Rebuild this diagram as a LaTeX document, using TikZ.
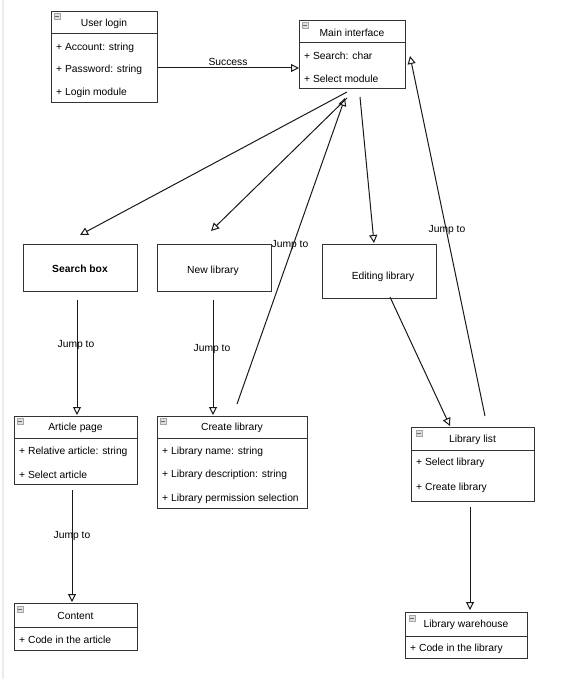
\documentclass[tikz,border=0pt]{standalone}
\usepackage{fontspec}
\setmainfont{Liberation Sans}
\usetikzlibrary{arrows.meta}
\begin{document}
\begin{tikzpicture}[x=1pt,y=-1pt,
  box/.style={draw=black!80, line width=1pt, anchor=north west, inner sep=0pt, fill=white},
  sep/.style={draw=black!80, line width=1pt},
  txt/.style={font=\fontsize{10.3}{12}\selectfont, inner sep=0pt, yshift=-1.5pt},
  attr/.style={txt, anchor=west},
  lbl/.style={txt},
  icon/.style={draw=gray!70, fill=gray!25, minimum size=5.5pt, inner sep=0pt,
    path picture={\draw[black!60, line width=0.7pt] ([xshift=1pt]path picture bounding box.west) -- ([xshift=-1pt]path picture bounding box.east);}},
  arr/.style={-{Triangle[open,length=8pt,width=8pt]}, line width=1pt, draw=black!90}
]
\useasboundingbox (0,0) rectangle (588,679);
\fill[white] (0,0) rectangle (588,679);
\draw[gray!15, line width=2pt] (3,0) -- (3,679);

% User login
\node[box, minimum width=106pt, minimum height=91pt] (ul) at (51,11) {};
\draw[sep] (51,34) -- (157,34);
\node[icon] (uli) at (57,16) {};
\node[txt] (ult) at (104,22) {User login};
\node[attr] (ul1) at (56,46) {+ Account: string};
\node[attr] (ul2) at (56,68) {+ Password: string};
\node[attr] (ul3) at (56,91) {+ Login module};

% Main interface
\node[box, minimum width=106pt, minimum height=68pt] (mi) at (299,20) {};
\draw[sep] (299,43) -- (405,43);
\node[icon] (mii) at (305,25) {};
\node[txt] (mit) at (352,31) {Main interface};
\node[attr] (mi1) at (304,54) {+ Search: char};
\node[attr] (mi2) at (304,77) {+ Select module};

% Search box, New library, Editing library
\node[box, minimum width=114pt, minimum height=47pt] (sb) at (23,244) {};
\node[txt, font=\fontsize{10.3}{12}\selectfont\bfseries] (sbt) at (80,267) {Search box};
\node[box, minimum width=114pt, minimum height=47pt] (nl) at (157,244) {};
\node[txt] (nlt) at (213,269) {New library};
\node[box, minimum width=114pt, minimum height=54pt] (el) at (322,244) {};
\node[txt] (elt) at (383,275) {Editing library};

% Article page
\node[box, minimum width=123pt, minimum height=68pt] (ap) at (14,416) {};
\draw[sep] (14,438) -- (137,438);
\node[icon] (api) at (20,421) {};
\node[txt] (apt) at (75.5,426) {Article page};
\node[attr] (ap1) at (19,450) {+ Relative article: string};
\node[attr] (ap2) at (19,473) {+ Select article};

% Create library
\node[box, minimum width=150pt, minimum height=92pt] (cl) at (157,416) {};
\draw[sep] (157,438) -- (307,438);
\node[icon] (cli) at (163,421) {};
\node[txt] (clt) at (232,426) {Create library};
\node[attr] (cl1) at (162,450) {+ Library name: string};
\node[attr] (cl2) at (162,473) {+ Library description: string};
\node[attr] (cl3) at (162,497) {+ Library permission selection};

% Library list
\node[box, minimum width=123pt, minimum height=74pt] (ll) at (411,427) {};
\draw[sep] (411,450) -- (534,450);
\node[icon] (lli) at (419,433) {};
\node[txt] (llt) at (472.5,438) {Library list};
\node[attr] (ll1) at (416,461) {+ Select library};
\node[attr] (ll2) at (416,486) {+ Create library};

% Library warehouse
\node[box, minimum width=122pt, minimum height=46pt] (lw) at (405,612) {};
\draw[sep] (405,636) -- (527,636);
\node[icon] (lwi) at (412,618) {};
\node[txt] (lwt) at (466,623) {Library warehouse};
\node[attr] (lw1) at (410,647) {+ Code in the library};

% Content
\node[box, minimum width=123pt, minimum height=47pt] (ct) at (14,603) {};
\draw[sep] (14,627) -- (137,627);
\node[icon] (cti) at (20,609) {};
\node[txt] (ctt) at (75.5,614) {Content};
\node[attr] (ct1) at (19,638) {+ Code in the article};

% connector end points
\coordinate (a1) at (347,92);  \coordinate (b1) at (80,235);
\coordinate (a2) at (347,98);  \coordinate (b2) at (211,231);
\coordinate (a3) at (360,97);  \coordinate (b3) at (374,243);
\coordinate (a4) at (237,404); \coordinate (b4) at (345,98);
\coordinate (a5) at (485,416); \coordinate (b5) at (410,56);
\coordinate (a6) at (390,297); \coordinate (b6) at (450,426);
\coordinate (a7) at (77,300);  \coordinate (b7) at (77,415);
\coordinate (a8) at (213,300); \coordinate (b8) at (213,415);
\coordinate (a9) at (72,490);  \coordinate (b9) at (72,602);
\coordinate (a10) at (470,507); \coordinate (b10) at (470,610);

\draw[arr] (ul.east |- 0,68) -- (mi.west |- 0,68);
\draw[arr] (a1) -- (b1);
\draw[arr] (a2) -- (b2);
\draw[arr] (a3) -- (b3);
\draw[arr] (a4) -- (b4);
\draw[arr] (a5) -- (b5);
\draw[arr] (a6) -- (b6);
\draw[arr] (a7) -- (b7);
\draw[arr] (a8) -- (b8);
\draw[arr] (a9) -- (b9);
\draw[arr] (a10) -- (b10);

% labels
\node[lbl] (l0) at (228,60) {Success};
\node[lbl] (l7) at (76,344) {Jump to};
\node[lbl] (l8) at (212,348) {Jump to};
\node[lbl] (l4) at (290,244) {Jump to};
\node[lbl] (l5) at (447,229) {Jump to};
\node[lbl] (l9) at (72,535) {Jump to};
\end{tikzpicture}
\end{document}
